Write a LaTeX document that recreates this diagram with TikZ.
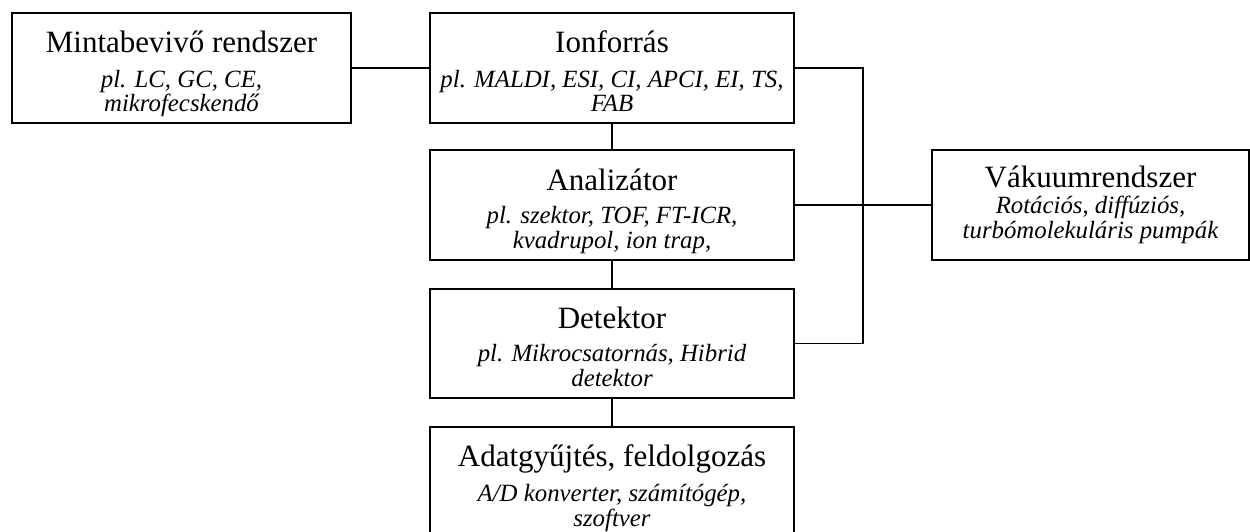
\documentclass[tikz,border=0pt]{standalone}
\usepackage{fontspec}
\setmainfont{Liberation Serif}
\begin{document}
\begin{tikzpicture}[x=1pt,y=-1pt,
  box/.style={draw=black,line width=1.9pt,rectangle,inner sep=0pt},
  ttl/.style={anchor=base,inner sep=0pt,font=\fontsize{31}{36}\selectfont},
  sub/.style={anchor=base,inner sep=0pt,font=\fontsize{24.8}{28}\selectfont\itshape},
  conn/.style={line width=1.9pt}]
\useasboundingbox (0,0) rectangle (1250,531);
% boxes
\node[box,minimum width=339pt,minimum height=110pt] (minta) at (181.5,68) {};
\node[box,minimum width=364pt,minimum height=110pt] (ion) at (612,68) {};
\node[box,minimum width=364pt,minimum height=110pt] (anal) at (612,205) {};
\node[box,minimum width=364pt,minimum height=109pt] (det) at (612,343.5) {};
\node[box,minimum width=364pt,minimum height=110pt] (adat) at (612,482) {};
\node[box,minimum width=317pt,minimum height=110pt] (vak) at (1090.5,205) {};
% texts
\node[ttl] (mintaT) at (181.5,52) {Mintabevivő rendszer};
\node[sub] (mintaS1) at (181.5,87) {pl. LC, GC, CE,};
\node[sub] (mintaS2) at (181.5,111) {mikrofecskendő};
\node[ttl] (ionT) at (612,52) {Ionforrás};
\node[sub] (ionS1) at (612,87) {pl. MALDI, ESI, CI, APCI, EI, TS,};
\node[sub] (ionS2) at (612,111) {FAB};
\node[ttl] (analT) at (612,190) {Analizátor};
\node[sub] (analS1) at (612,223) {pl. szektor, TOF, FT-ICR,};
\node[sub] (analS2) at (612,248) {kvadrupol, ion trap,};
\node[ttl] (detT) at (612,328) {Detektor};
\node[sub] (detS1) at (612,361) {pl. Mikrocsatornás, Hibrid};
\node[sub] (detS2) at (612,386) {detektor};
\node[ttl] (adatT) at (612,466) {Adatgyűjtés, feldolgozás};
\node[sub] (adatS1) at (612,501) {A/D konverter, számítógép,};
\node[sub] (adatS2) at (612,526) {szoftver};
\node[ttl] (vakT) at (1090.5,187) {Vákuumrendszer};
\node[sub] (vakS1) at (1090.5,213) {Rotációs, diffúziós,};
\node[sub] (vakS2) at (1090.5,238) {turbómolekuláris pumpák};
% connectors
\coordinate (busTop) at (863,68);
\coordinate (busBot) at (863,343.5);
\draw[conn] (minta.east) -- (ion.west);
\draw[conn] (ion.south) -- (anal.north);
\draw[conn] (anal.south) -- (det.north);
\draw[conn] (det.south) -- (adat.north);
\draw[conn] (ion.east) -- (busTop) -- (busBot) -- (det.east);
\draw[conn] (anal.east) -- (vak.west);
\end{tikzpicture}
\end{document}
